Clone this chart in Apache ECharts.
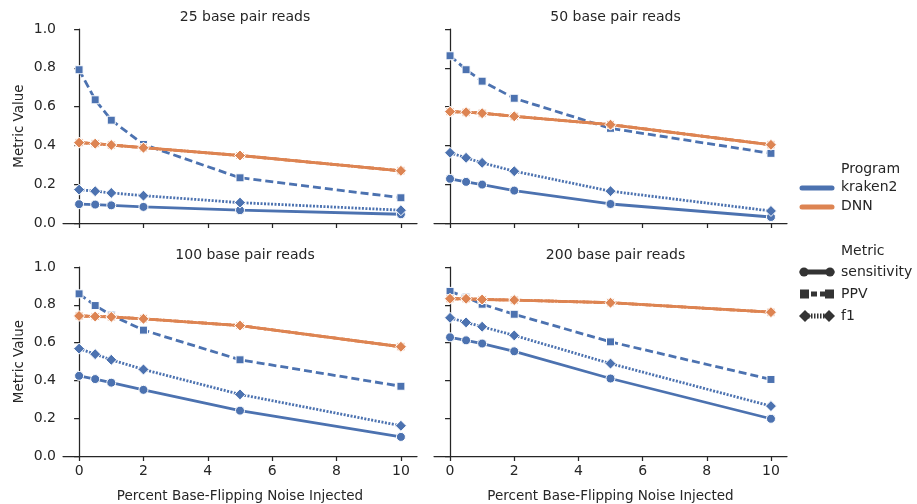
<!DOCTYPE html>
<html>
<head>
<meta charset="utf-8">
<script src="https://cdn.jsdelivr.net/npm/echarts@6/dist/echarts.min.js"></script>
<style>
  html, body { margin: 0; padding: 0; background: #fff; }
  #chart { width: 917px; height: 504px; }
</style>
</head>
<body>
<div id="chart"></div>
<script>
// noise levels (x) and panel titles
var noise = [0, 0.5, 1, 2, 5, 10];
var panelTitles = ['25 base pair reads', '50 base pair reads', '100 base pair reads', '200 base pair reads'];
var xTicks = [0, 2, 4, 6, 8, 10];

// kraken2 metrics, one row per panel
var krakenSensitivity = [
  [0.097, 0.095, 0.091, 0.083, 0.066, 0.045],
  [0.228, 0.212, 0.198, 0.167, 0.098, 0.031],
  [0.424, 0.407, 0.388, 0.350, 0.240, 0.101],
  [0.628, 0.612, 0.595, 0.554, 0.410, 0.197]
];
var krakenPPV = [
  [0.790, 0.635, 0.530, 0.405, 0.233, 0.130],
  [0.862, 0.790, 0.731, 0.643, 0.488, 0.359],
  [0.858, 0.796, 0.745, 0.666, 0.509, 0.369],
  [0.871, 0.840, 0.803, 0.750, 0.604, 0.405]
];
var krakenF1 = [
  [0.172, 0.164, 0.155, 0.141, 0.105, 0.066],
  [0.362, 0.336, 0.310, 0.267, 0.164, 0.062],
  [0.568, 0.539, 0.509, 0.458, 0.326, 0.160],
  [0.731, 0.707, 0.684, 0.638, 0.489, 0.264]
];
// DNN: all three metrics overlap in the picture
var dnnSensitivity = [
  [0.414, 0.409, 0.402, 0.388, 0.348, 0.269],
  [0.574, 0.571, 0.566, 0.550, 0.507, 0.403],
  [0.741, 0.738, 0.736, 0.726, 0.690, 0.578],
  [0.832, 0.832, 0.828, 0.825, 0.811, 0.761]
];
var dnnPPV = dnnSensitivity;
var dnnF1 = dnnSensitivity;

var blue = '#4c72b0';
var orange = '#dd8452';
var ink = '#262626';
var font = 'DejaVu Sans';

var grids = [
  { left: 63, top: 29, width: 354, height: 194 },
  { left: 434, top: 29, width: 353, height: 194 },
  { left: 63, top: 267, width: 354, height: 194 },
  { left: 434, top: 267, width: 353, height: 194 }
];

var metricStyles = [
  { name: 'sensitivity', line: 'solid', symbol: 'circle', size: 9 },
  { name: 'PPV', line: [8, 4], symbol: 'rect', size: 8 },
  { name: 'f1', line: [2, 1.5], symbol: 'diamond', size: 11 }
];

function pairs(vals) {
  return noise.map(function (x, i) { return [x, vals[i]]; });
}

var xAxes = [], yAxes = [], series = [], titles = [];
grids.forEach(function (g, p) {
  var bottomRow = p >= 2, leftCol = p % 2 === 0;
  titles.push({
    text: panelTitles[p], left: g.left + g.width / 2, top: g.top - 24, textAlign: 'center',
    textStyle: { fontFamily: font, fontSize: 14, fontWeight: 'normal', color: ink }
  });
  xAxes.push({
    type: 'value', gridIndex: p, min: -0.5, max: 10.5,
    splitLine: { show: false },
    axisLine: { lineStyle: { color: ink, width: 1.25 } },
    axisTick: { show: true, length: 5, lineStyle: { color: ink, width: 1.25 }, customValues: xTicks },
    axisLabel: { show: bottomRow, customValues: xTicks, color: ink, fontFamily: font, fontSize: 14, margin: 8 },
    name: bottomRow ? 'Percent Base-Flipping Noise Injected' : '',
    nameLocation: 'middle', nameGap: 33,
    nameTextStyle: { color: ink, fontFamily: font, fontSize: 13.5 }
  });
  yAxes.push({
    type: 'value', gridIndex: p, min: 0, max: 1, interval: 0.2,
    splitLine: { show: false },
    axisLine: { show: true, lineStyle: { color: ink, width: 1.25 } },
    axisTick: { show: true, length: 5, lineStyle: { color: ink, width: 1.25 } },
    axisLabel: { show: leftCol, color: ink, fontFamily: font, fontSize: 14, margin: 7,
      formatter: function (v) { return v.toFixed(1); } },
    name: leftCol ? 'Metric Value' : '',
    nameLocation: 'middle', nameGap: 37,
    nameTextStyle: { color: ink, fontFamily: font, fontSize: 13.5 }
  });
  var programs = [
    { color: blue, data: [krakenSensitivity, krakenPPV, krakenF1] },
    { color: orange, data: [dnnSensitivity, dnnPPV, dnnF1] }
  ];
  programs.forEach(function (prog) {
    metricStyles.forEach(function (m, k) {
      series.push({
        type: 'line', xAxisIndex: p, yAxisIndex: p,
        data: pairs(prog.data[k][p]),
        symbol: m.symbol, symbolSize: m.size,
        lineStyle: { color: prog.color, width: 2.8, type: m.line },
        itemStyle: { color: prog.color, borderColor: '#fff', borderWidth: 1 },
        animation: false, silent: true
      });
    });
  });
});

// legend drawn by hand to look like the seaborn one
var legendX = 800, textX = 841;
var graphics = [];
function legendText(t, y) {
  graphics.push({ type: 'text', left: textX, top: y - 8,
    style: { text: t, fill: ink, font: '14px "' + font + '"' } });
}
function legendLine(y, color, dash) {
  graphics.push({ type: 'line', shape: { x1: legendX + 2, y1: y, x2: legendX + 32, y2: y },
    style: { stroke: color, lineWidth: 5, lineDash: dash || null, lineCap: 'round' } });
}
legendText('Program', 170);
legendText('kraken2', 188); legendLine(188, blue);
legendText('DNN', 207); legendLine(207, orange);
legendText('Metric', 252);
var mk = '#333';
legendText('sensitivity', 273); legendLine(272, mk);
graphics.push({ type: 'circle', shape: { cx: legendX + 4, cy: 272, r: 4.5 }, style: { fill: mk } });
graphics.push({ type: 'circle', shape: { cx: legendX + 30, cy: 272, r: 4.5 }, style: { fill: mk } });
graphics.push({ type: 'line', shape: { x1: legendX + 2, y1: 294, x2: legendX + 32, y2: 294 },
  style: { stroke: mk, lineWidth: 5, lineDash: [6, 3] } });
graphics.push({ type: 'rect', shape: { x: legendX, y: 289.5, width: 9, height: 9 }, style: { fill: mk } });
graphics.push({ type: 'rect', shape: { x: legendX + 25, y: 289.5, width: 9, height: 9 }, style: { fill: mk } });
legendText('PPV', 295);
graphics.push({ type: 'line', shape: { x1: legendX + 2, y1: 316, x2: legendX + 32, y2: 316 },
  style: { stroke: mk, lineWidth: 5, lineDash: [1.5, 1.5] } });
graphics.push({ type: 'polygon', shape: { points: [[legendX - 1, 316], [legendX + 5, 310], [legendX + 11, 316], [legendX + 5, 322]] }, style: { fill: mk } });
graphics.push({ type: 'polygon', shape: { points: [[legendX + 23, 316], [legendX + 29, 310], [legendX + 35, 316], [legendX + 29, 322]] }, style: { fill: mk } });
legendText('f1', 317);

var chart = echarts.init(document.getElementById('chart'), null, { renderer: 'canvas' });
chart.setOption({
  backgroundColor: '#fff',
  animation: false,
  title: titles,
  grid: grids,
  xAxis: xAxes,
  yAxis: yAxes,
  series: series,
  graphic: graphics
});
</script>
</body>
</html>
